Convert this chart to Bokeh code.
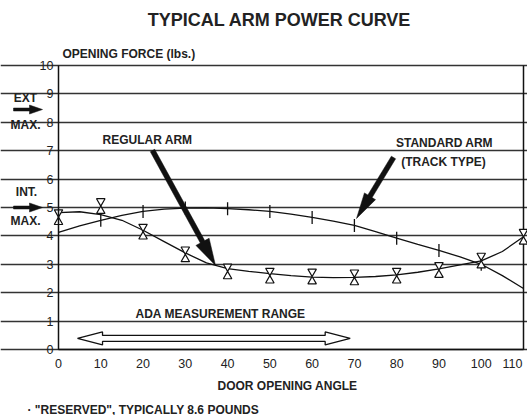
import math
from bokeh.plotting import figure
from bokeh.models import Label, Range1d, FixedTicker, LinearAxis, Grid
from bokeh.core.properties import value
from bokeh.embed import file_html
from bokeh.resources import INLINE

# ---------------- data ----------------
marker_angles = [0, 10, 20, 30, 40, 50, 60, 70, 80, 90, 100, 110]
regular_points = [4.66, 5.05, 4.15, 3.35, 2.75, 2.6, 2.57, 2.54, 2.6, 2.8, 3.13, 3.97]

standard_angles = [10, 20, 30, 40, 50, 60, 70, 80, 90, 100]
standard_points = [4.55, 4.86, 4.98, 4.96, 4.86, 4.65, 4.37, 3.92, 3.49, 3.0]

curve_angles = [0, 5, 10, 15, 20, 25, 30, 35, 40, 45, 50, 55, 60, 65, 70, 75, 80, 85, 90, 95, 100, 105, 110]
regular_curve = [4.82, 4.85, 4.75, 4.55, 4.2, 3.8, 3.4, 3.05, 2.85, 2.75, 2.67, 2.6, 2.55, 2.53, 2.54,
                 2.57, 2.63, 2.72, 2.84, 2.98, 3.12, 3.45, 3.97]
standard_curve = [4.12, 4.35, 4.55, 4.72, 4.86, 4.94, 4.98, 4.99, 4.96, 4.92, 4.86, 4.77, 4.65, 4.52, 4.37,
                  4.15, 3.92, 3.7, 3.49, 3.26, 3.0, 2.6, 2.15]

ada_range = [4.5, 69.0]
ada_level = 0.39
ext_max = 8.45
int_max = 5.0

x_ticks = [0, 10, 20, 30, 40, 50, 60, 70, 80, 90, 100, 110]
y_ticks = [0, 1, 2, 3, 4, 5, 6, 7, 8, 9, 10]
y_tick_labels = ["0", "1", "2", "3", "4", "5", "6", "7", "8", "9", "10"]

# ---------------- layout ----------------
W, H = 527, 415
X0PX, X1PX = 58, 523      # pixel columns of 0 deg and 110 deg
Y0PX, Y1PX = 349, 65      # pixel rows of 0 lb and 10 lb
SX = (X1PX - X0PX) / 110.0
SY = (Y0PX - Y1PX) / 10.0

FONT = "Liberation Sans"
INK = "#222222"

p = figure(width=W, height=H, output_backend="svg", toolbar_location=None,
           x_range=Range1d(-X0PX / SX, (W - X0PX) / SX),
           y_range=Range1d(-(H - Y0PX) / SY, 10 + Y1PX / SY),
           x_axis_location=None, y_axis_location=None,
           min_border=0, title=None)
p.background_fill_color = "white"
p.border_fill_color = "white"
p.outline_line_color = None
for g in p.grid:
    g.visible = False

# horizontal grid restricted to the chart box
p.add_layout(Grid(dimension=1, ticker=FixedTicker(ticks=y_ticks), bounds=(x_ticks[0], x_ticks[-1]),
                  grid_line_color="#333333", grid_line_width=1.4))


def style_axis(ax):
    ax.major_tick_out = 0
    ax.major_tick_in = 0
    ax.minor_tick_out = 0
    ax.minor_tick_in = 0
    ax.axis_line_color = "#111111"
    ax.axis_line_width = 1.5
    ax.major_label_text_font = FONT
    ax.major_label_text_font_size = "12.5px"
    ax.major_label_text_color = INK


yax = LinearAxis(fixed_location=x_ticks[0], bounds=(y_ticks[0], y_ticks[-1]),
                 ticker=FixedTicker(ticks=y_ticks))
style_axis(yax)
yax.major_label_text_color = None
p.add_layout(yax, "left")

# y tick labels, right-aligned just left of the axis
p.text(x=[x_ticks[0]] * len(y_ticks), y=y_ticks, text=y_tick_labels,
       x_offset=-5, text_align="right", text_baseline="middle",
       text_font=value(FONT), text_font_size="12.5px", text_color=INK)

xax = LinearAxis(fixed_location=y_ticks[0], bounds=(x_ticks[0], x_ticks[-1]),
                 ticker=FixedTicker(ticks=x_ticks))
style_axis(xax)
xax.major_label_standoff = 9
xax.major_label_overrides = {110: ""}
p.add_layout(xax, "below")

# right border of the chart box
p.segment(x0=[x_ticks[-1]], y0=[y_ticks[0]], x1=[x_ticks[-1]], y1=[y_ticks[-1]],
          line_color="#111111", line_width=1.5)


def arrow_poly(x0, y0, x1, y1, shaft_w, head_w, head_l):
    X0, Y0, X1, Y1 = x0 * SX, y0 * SY, x1 * SX, y1 * SY
    ddx, ddy = X1 - X0, Y1 - Y0
    L = math.hypot(ddx, ddy)
    ux, uy = ddx / L, ddy / L
    nx, ny = -uy, ux
    bx, by = X1 - ux * head_l, Y1 - uy * head_l
    pts = [
        (X0 + nx * shaft_w / 2, Y0 + ny * shaft_w / 2),
        (bx + nx * shaft_w / 2, by + ny * shaft_w / 2),
        (bx + nx * head_w / 2, by + ny * head_w / 2),
        (X1, Y1),
        (bx - nx * head_w / 2, by - ny * head_w / 2),
        (bx - nx * shaft_w / 2, by - ny * shaft_w / 2),
        (X0 - nx * shaft_w / 2, Y0 - ny * shaft_w / 2),
    ]
    return [q[0] / SX for q in pts], [q[1] / SY for q in pts]


def double_arrow_poly(x0, x1, yc, shaft_h, head_h, head_l):
    hx = head_l / SX
    sh = shaft_h / 2 / SY
    hh = head_h / 2 / SY
    xs = [x0, x0 + hx, x0 + hx, x1 - hx, x1 - hx, x1, x1 - hx, x1 - hx, x0 + hx, x0 + hx]
    ys = [yc, yc + hh, yc + sh, yc + sh, yc + hh, yc, yc - hh, yc - sh, yc - sh, yc - hh]
    return xs, ys


def dx(px):
    return (px - X0PX) / SX


def dy(py):
    return (Y0PX - py) / SY


# ---------------- curves ----------------
p.line(curve_angles, standard_curve, line_color="#111111", line_width=1.3)
p.line(curve_angles, regular_curve, line_color="#111111", line_width=1.3)

# standard arm points: short vertical ticks
p.scatter(standard_angles, standard_points, marker="dash", angle=math.pi / 2, size=13,
          line_color="#111111", line_width=1.3)

# regular arm points: hourglass markers
tri_size = 8.5
off = (tri_size / 2) * math.sqrt(3) * 2 / 3 / SY
p.scatter(marker_angles, [v + off for v in regular_points], marker="inverted_triangle", size=tri_size,
          fill_color="white", line_color="#111111", line_width=1.2)
p.scatter(marker_angles, [v - off for v in regular_points], marker="triangle", size=tri_size,
          fill_color="white", line_color="#111111", line_width=1.2)

# ---------------- pointer arrows ----------------
xs, ys = arrow_poly(dx(152), dy(150), dx(215), dy(265), 5, 15, 27)
p.patch(xs, ys, fill_color="#111111", line_color="#111111", line_width=0.5)
xs, ys = arrow_poly(dx(393), dy(157), dx(356), dy(218), 5, 13, 26)
p.patch(xs, ys, fill_color="#111111", line_color="#111111", line_width=0.5)

for yv in (ext_max, int_max):
    xs, ys = arrow_poly(dx(13), yv, dx(42), yv, 3, 9, 13)
    p.patch(xs, ys, fill_color="#111111", line_color="#111111", line_width=0.5)

# ADA hollow double arrow
xs, ys = double_arrow_poly(ada_range[0], ada_range[1], ada_level, 6, 13, 25)
p.patch(xs, ys, fill_color="white", line_color="#111111", line_width=1.3)


# ---------------- texts ----------------
def lab(x, y, text, size="12px", style="bold", align="center"):
    p.add_layout(Label(x=x, y=y, text=text, text_font=FONT, text_font_size=size,
                       text_font_style=style, text_color=INK, text_align=align,
                       text_baseline="middle"))


lab(dx(279), dy(19), "TYPICAL ARM POWER CURVE", size="18px")
lab(dx(62), dy(53), "OPENING FORCE (lbs.)", align="left")
lab(dx(147), dy(139), "REGULAR ARM")
lab(dx(444), dy(142), "STANDARD ARM")
lab(dx(443), dy(161), "(TRACK TYPE)")
lab(dx(220), dy(313), "ADA MEASUREMENT RANGE")

lab(dx(25), ext_max + 0.42, "EXT")
lab(dx(25), ext_max - 0.53, "MAX.")
lab(dx(26), int_max + 0.53, "INT.")
lab(dx(25), int_max - 0.49, "MAX.")

lab(dx(287), dy(385), "DOOR OPENING ANGLE")
lab(dx(27), dy(409), "\u00b7 \"RESERVED\", TYPICALLY 8.6 POUNDS", align="left")

p.add_layout(Label(x=x_ticks[-1], y=y_ticks[0], text="110", text_font=FONT, text_font_size="12.5px",
                   text_color=INK, text_align="right", text_baseline="top",
                   x_offset=-1, y_offset=-9))

open("out.html", "w").write(file_html(p, INLINE))
